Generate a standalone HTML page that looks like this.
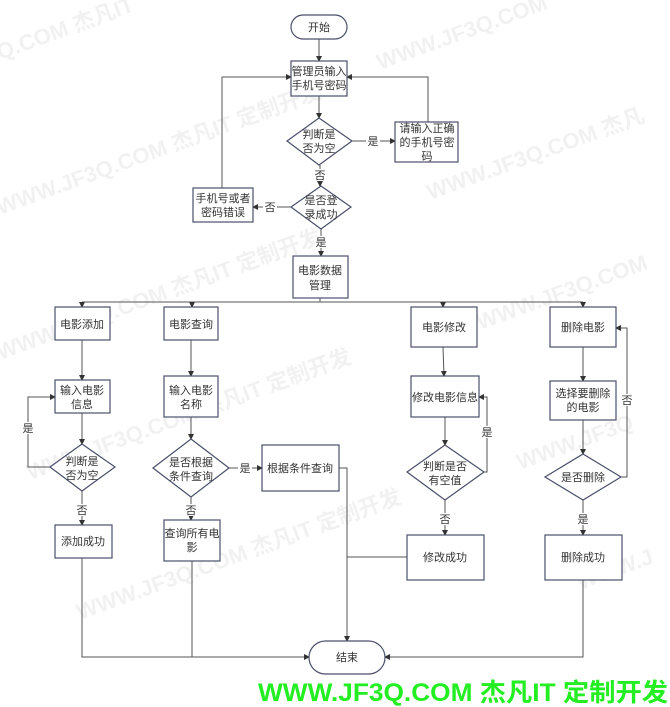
<!DOCTYPE html>
<html><head><meta charset="utf-8"><style>
html,body{margin:0;padding:0;background:#fff;}
svg{display:block;}
text{font-family:"Liberation Sans","Noto Sans CJK SC",sans-serif;font-size:11px;fill:#333;}
.b{fill:#fff;stroke:#4a4f6a;stroke-width:1.2;}
.l{fill:none;stroke:#555;stroke-width:1;}
.wm{font-size:22px;fill:#000;opacity:0.05;font-weight:bold;}
</style></head><body>
<svg width="670" height="707" viewBox="0 0 670 707" xmlns="http://www.w3.org/2000/svg">
<defs><marker id="a" markerWidth="6" markerHeight="6" refX="5" refY="3" orient="auto" markerUnits="userSpaceOnUse"><path d="M0,0 L6,3 L0,6 z" fill="#333"/></marker></defs>
<g>
<text class="wm" transform="translate(0,60) rotate(-20)">Q.COM 杰凡IT</text>
<text class="wm" transform="translate(0,215) rotate(-20)">WWW.JF3Q.COM 杰凡IT 定制开发</text>
<text class="wm" transform="translate(380,70) rotate(-20)">WWW.JF3Q.COM</text>
<text class="wm" transform="translate(430,200) rotate(-20)">WWW.JF3Q.COM 杰凡</text>
<text class="wm" transform="translate(0,360) rotate(-20)">WWW.JF3Q.COM 杰凡IT 定制开发</text>
<text class="wm" transform="translate(480,330) rotate(-20)">WWW.JF3Q.COM</text>
<text class="wm" transform="translate(30,480) rotate(-20)">WWW.JF3Q.COM 杰凡IT 定制开发</text>
<text class="wm" transform="translate(520,470) rotate(-20)">WWW.JF3Q</text>
<text class="wm" transform="translate(80,620) rotate(-20)">WWW.JF3Q.COM 杰凡IT 定制开发</text>
<text class="wm" transform="translate(580,590) rotate(-20)">WWW.J</text>
</g>
<g class="l">
<line x1="319" y1="39" x2="319" y2="61" marker-end="url(#a)"/>
<line x1="319" y1="96" x2="319" y2="118" marker-end="url(#a)"/>
<line x1="352" y1="141" x2="395" y2="141" marker-end="url(#a)"/>
<polyline points="428,122 428,77 347,77" marker-end="url(#a)"/>
<line x1="320" y1="165" x2="320" y2="186" marker-end="url(#a)"/>
<line x1="291" y1="207" x2="253" y2="207" marker-end="url(#a)"/>
<polyline points="222,188 222,77 291,77" marker-end="url(#a)"/>
<line x1="321" y1="229" x2="321" y2="256" marker-end="url(#a)"/>
<line x1="320" y1="298" x2="320" y2="302"/>
<line x1="82" y1="302" x2="583" y2="302"/>
<line x1="82" y1="302" x2="82" y2="307" marker-end="url(#a)"/>
<line x1="192" y1="302" x2="192" y2="307" marker-end="url(#a)"/>
<line x1="443" y1="302" x2="443" y2="307" marker-end="url(#a)"/>
<line x1="583" y1="302" x2="583" y2="307" marker-end="url(#a)"/>
<line x1="82" y1="340" x2="82" y2="380" marker-end="url(#a)"/>
<line x1="82" y1="413" x2="82" y2="444" marker-end="url(#a)"/>
<polyline points="50,467 28,467 28,397 55,397" marker-end="url(#a)"/>
<line x1="82" y1="491" x2="82" y2="525" marker-end="url(#a)"/>
<line x1="191" y1="340" x2="191" y2="376" marker-end="url(#a)"/>
<line x1="191" y1="417" x2="191" y2="439" marker-end="url(#a)"/>
<line x1="229" y1="468" x2="262" y2="468" marker-end="url(#a)"/>
<line x1="191" y1="497" x2="191" y2="520" marker-end="url(#a)"/>
<polyline points="339,468 347,468 347,641" marker-end="url(#a)"/>
<line x1="407" y1="557" x2="347" y2="557"/>
<line x1="443" y1="347" x2="444" y2="376" marker-end="url(#a)"/>
<line x1="445" y1="417" x2="445" y2="445" marker-end="url(#a)"/>
<polyline points="484,472 487,472 487,397 479,397" marker-end="url(#a)"/>
<line x1="445" y1="500" x2="445" y2="535" marker-end="url(#a)"/>
<line x1="583" y1="347" x2="583" y2="381" marker-end="url(#a)"/>
<line x1="583" y1="420" x2="583" y2="454" marker-end="url(#a)"/>
<polyline points="621,477 627,477 627,328 616,328" marker-end="url(#a)"/>
<line x1="583" y1="500" x2="583" y2="535" marker-end="url(#a)"/>
<polyline points="82,558 82,657 309,657" marker-end="url(#a)"/>
<line x1="192" y1="561" x2="192" y2="657"/>
<polyline points="583,580 583,657 385,657" marker-end="url(#a)"/>
</g>
<rect class="b" x="291" y="15" width="56" height="24" rx="12"/>
<rect class="b" x="291" y="61" width="56" height="35"/>
<polygon class="b" points="319,118 352,141 319,165 287,141"/>
<rect class="b" x="395" y="122" width="63" height="40"/>
<polygon class="b" points="321,186 351,207 321,229 291,207"/>
<rect class="b" x="193" y="188" width="60" height="34"/>
<rect class="b" x="293" y="256" width="55" height="42"/>
<rect class="b" x="55" y="307" width="55" height="33"/>
<rect class="b" x="164" y="307" width="54" height="33"/>
<rect class="b" x="411" y="307" width="66" height="40"/>
<rect class="b" x="550" y="307" width="66" height="40"/>
<rect class="b" x="55" y="380" width="55" height="33"/>
<rect class="b" x="164" y="376" width="54" height="41"/>
<rect class="b" x="411" y="376" width="68" height="41"/>
<rect class="b" x="550" y="381" width="66" height="39"/>
<polygon class="b" points="82,444 115,467 82,491 50,467"/>
<polygon class="b" points="191,439 229,468 191,497 153,468"/>
<polygon class="b" points="445,445 484,472 445,500 407,472"/>
<polygon class="b" points="583,454 621,477 583,500 545,477"/>
<rect class="b" x="262" y="445" width="77" height="46"/>
<rect class="b" x="55" y="525" width="57" height="33"/>
<rect class="b" x="164" y="520" width="56" height="41"/>
<rect class="b" x="407" y="535" width="77" height="45"/>
<rect class="b" x="545" y="535" width="77" height="45"/>
<rect class="b" x="309" y="641" width="76" height="33" rx="16.5"/>
<g text-anchor="middle">
<text x="319" y="31">开始</text>
<text x="319" y="75">管理员输入</text><text x="319" y="89">手机号密码</text>
<text x="319" y="138">判断是</text><text x="319" y="152">否为空</text>
<text x="427" y="132">请输入正确</text><text x="427" y="146">的手机号密</text><text x="427" y="160">码</text>
<rect x="366" y="135" width="14" height="12" fill="#fff"/><text x="373" y="145">是</text>
<rect x="313" y="169" width="14" height="12" fill="#fff"/><text x="320" y="179">否</text>
<text x="321" y="204">是否登</text><text x="321" y="218">录成功</text>
<rect x="263" y="201" width="14" height="12" fill="#fff"/><text x="270" y="211">否</text>
<text x="223" y="202">手机号或者</text><text x="223" y="216">密码错误</text>
<rect x="314" y="236" width="14" height="12" fill="#fff"/><text x="321" y="246">是</text>
<text x="320" y="274">电影数据</text><text x="320" y="289">管理</text>
<text x="82" y="328">电影添加</text>
<text x="191" y="328">电影查询</text>
<text x="444" y="331">电影修改</text>
<text x="583" y="331">删除电影</text>
<text x="82" y="394">输入电影</text><text x="82" y="408">信息</text>
<text x="191" y="394">输入电影</text><text x="191" y="408">名称</text>
<text x="445" y="401">修改电影信息</text>
<text x="583" y="397">选择要删除</text><text x="583" y="411">的电影</text>
<text x="82" y="465">判断是</text><text x="82" y="479">否为空</text>
<text x="191" y="466">是否根据</text><text x="191" y="480">条件查询</text>
<text x="445" y="470">判断是否</text><text x="445" y="484">有空值</text>
<text x="583" y="481">是否删除</text>
<rect x="21" y="422" width="14" height="12" fill="#fff"/><text x="28" y="432">是</text>
<rect x="480" y="426" width="14" height="12" fill="#fff"/><text x="487" y="436">是</text>
<rect x="620" y="394" width="14" height="12" fill="#fff"/><text x="627" y="404">否</text>
<rect x="238" y="462" width="14" height="12" fill="#fff"/><text x="245" y="472">是</text>
<text x="300" y="472">根据条件查询</text>
<rect x="75" y="504" width="14" height="12" fill="#fff"/><text x="82" y="514">否</text>
<rect x="184" y="504" width="14" height="12" fill="#fff"/><text x="191" y="514">否</text>
<rect x="438" y="513" width="14" height="12" fill="#fff"/><text x="445" y="523">否</text>
<rect x="576" y="513" width="14" height="12" fill="#fff"/><text x="583" y="523">是</text>
<text x="83" y="545">添加成功</text>
<text x="192" y="537">查询所有电</text><text x="192" y="551">影</text>
<text x="445" y="561">修改成功</text>
<text x="583" y="561">删除成功</text>
<text x="347" y="661">结束</text>
</g>
<text x="258" y="701" textLength="410" lengthAdjust="spacingAndGlyphs" style="font-size:25px;font-weight:bold;fill:#22ee22;">WWW.JF3Q.COM 杰凡IT  定制开发</text>
</svg>
</body></html>
